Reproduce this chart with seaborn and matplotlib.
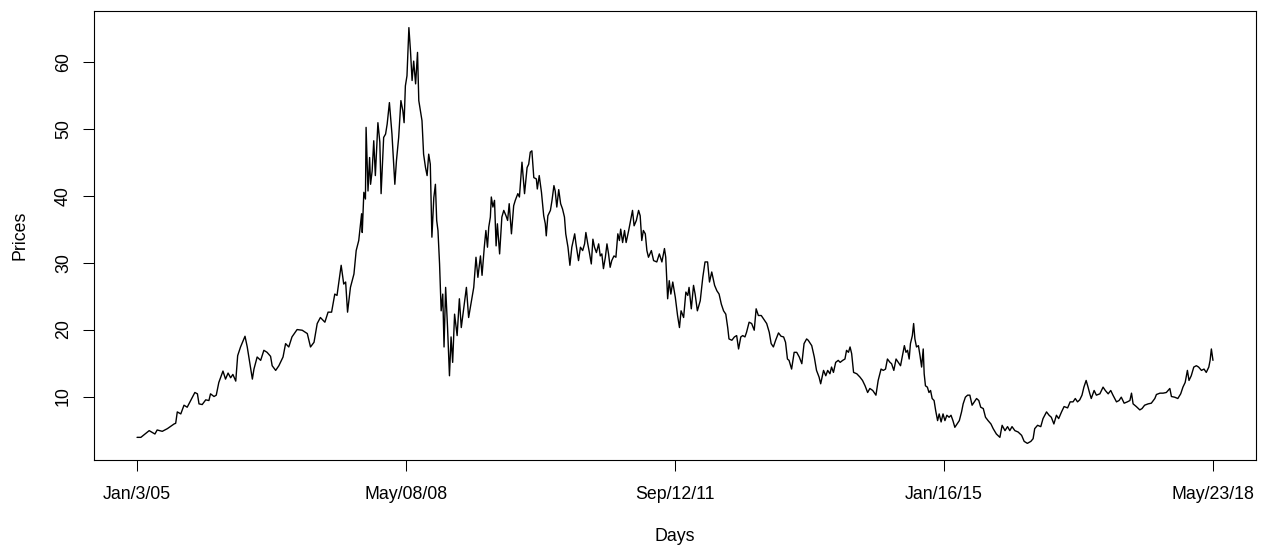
import matplotlib
matplotlib.use("Agg")
import matplotlib.pyplot as plt
import seaborn as sns
import pandas as pd

# Trading-day index (0 = first session) and closing price
days = [
    0, 12, 38, 56, 63, 79, 95, 116, 121, 126,
    137, 147, 157, 168, 181, 189, 194, 204, 215, 225,
    230, 241, 248, 256, 269, 277, 285, 293, 300, 309,
    315, 324, 338, 345, 350, 361, 366, 376, 387, 397,
    407, 418, 423, 434, 444, 457, 465, 475, 485, 501,
    517, 533, 543, 554, 564, 574, 588, 598, 609, 619,
    626, 639, 647, 653, 659, 668, 679, 686, 694, 703,
    705, 710, 715, 717, 720, 723, 728, 731, 736, 741,
    746, 754, 760, 764, 772, 778, 783, 790, 798, 807,
    812, 819, 826, 832, 836, 840, 845, 851, 856, 861,
    866, 872, 878, 882, 887, 892, 897, 903, 908, 913,
    918, 923, 929, 934, 938, 942, 947, 952, 957, 961,
    966, 972, 978, 983, 988, 994, 1002, 1009, 1015, 1023,
    1031, 1038, 1045, 1054, 1061, 1067, 1075, 1080, 1087, 1092,
    1097,
    1101, 1106, 1109, 1114, 1119, 1124, 1128, 1135, 1142, 1148,
    1155, 1160, 1165, 1172, 1179, 1184, 1192, 1197, 1205, 1213,
    1221, 1226, 1231, 1236, 1242, 1250, 1253, 1259, 1266, 1273,
    1278, 1281, 1286, 1294, 1299, 1305, 1309, 1314, 1320, 1326,
    1332, 1338, 1342, 1349, 1355, 1361, 1370, 1374, 1382, 1388,
    1395, 1401, 1405, 1411, 1416, 1422, 1427, 1432, 1438, 1445,
    1450, 1455, 1460, 1466, 1471, 1476, 1481, 1486, 1493, 1499,
    1505, 1510, 1514, 1520, 1526, 1531, 1539, 1546, 1551, 1556,
    1563,
    1570, 1575, 1580, 1585, 1591, 1596, 1601, 1610, 1617, 1627,
    1635, 1643, 1651, 1655, 1661, 1666, 1671, 1677, 1685, 1692,
    1698, 1703, 1711, 1718, 1724, 1728, 1735, 1742, 1747, 1754,
    1763, 1771, 1778, 1786, 1792, 1799, 1808, 1815, 1822, 1829,
    1836, 1843, 1849, 1853, 1862, 1870, 1877, 1883, 1890, 1896,
    1903, 1908, 1916, 1924, 1932, 1938, 1945, 1954, 1961, 1971,
    1979, 1985, 1992, 1999, 2008, 2016, 2024, 2030, 2036, 2041,
    2049, 2057, 2065, 2073, 2081, 2088, 2096,
    2101, 2112, 2120, 2127, 2135, 2140, 2149, 2156, 2162, 2169,
    2174, 2180, 2187, 2195, 2201, 2209, 2216, 2221, 2227, 2232,
    2237, 2243, 2253, 2263, 2271, 2279, 2287, 2294, 2303, 2313,
    2320, 2329, 2336, 2343, 2349, 2357, 2362, 2369, 2376, 2383,
    2390, 2396, 2402, 2407, 2412, 2417, 2421, 2427, 2431, 2435,
    2440, 2446, 2451, 2456, 2461, 2464, 2468, 2474, 2479, 2484,
    2489, 2495, 2500, 2506, 2511, 2517, 2523, 2529, 2535, 2542,
    2548, 2554, 2560, 2567, 2574, 2581, 2586, 2593, 2600, 2607,
    2614, 2621, 2628, 2635, 2641, 2649, 2656,
    2664, 2673, 2680, 2690, 2701, 2708, 2717, 2725, 2732, 2739,
    2748, 2758, 2769, 2777, 2787, 2798, 2805, 2810, 2819, 2829,
    2836, 2847, 2855, 2862, 2870, 2878, 2885, 2894, 2902, 2913,
    2921, 2930, 2937, 2944, 2951, 2958, 2964, 2971, 2977, 2982,
    2987, 2996, 3003, 3014, 3024, 3031, 3040, 3048, 3055, 3066,
    3074, 3081, 3090, 3100, 3108, 3113, 3118, 3128, 3139, 3146,
    3154, 3165, 3175, 3186, 3191, 3202, 3212, 3222, 3233, 3238,
    3248, 3258, 3267, 3274, 3281, 3288, 3293, 3300, 3308, 3316,
    3323, 3332, 3340, 3347, 3355, 3359, 3363, 3368,
]

prices = [
    3.9, 3.9, 4.9, 4.4, 5.0, 4.8, 5.2, 5.9, 6.0, 7.7,
    7.4, 8.7, 8.4, 9.4, 10.6, 10.4, 8.9, 8.8, 9.5, 9.4,
    10.4, 10.0, 10.2, 12.1, 13.8, 12.6, 13.5, 12.8, 13.3, 12.3,
    16.1, 17.4, 19.0, 17.4, 15.9, 12.6, 14.1, 15.9, 15.4, 16.9,
    16.6, 16.0, 14.6, 13.9, 14.6, 15.9, 17.9, 17.4, 18.9, 20.0,
    19.9, 19.4, 17.4, 18.1, 20.9, 21.8, 21.1, 22.6, 22.6, 25.3,
    25.1, 29.6, 26.8, 27.1, 22.6, 26.3, 28.3, 31.8, 33.3, 37.3,
    34.5, 40.5, 39.5, 50.2, 45.2, 40.7, 45.7, 41.7, 43.7, 48.2,
    43.0, 50.9, 48.0, 40.3, 48.7, 49.2, 50.7, 53.9, 49.2, 41.7,
    45.2, 48.7, 54.2, 52.7, 50.9, 56.4, 57.9, 65.1, 61.6, 57.2,
    60.1, 56.7, 61.4, 54.2, 52.7, 51.2, 46.2, 44.2, 43.0, 46.2,
    44.7, 33.8, 39.7, 41.7, 36.3, 34.8, 29.8, 22.8, 25.3, 17.4,
    26.3, 20.3, 13.1, 18.9, 15.1, 22.3, 19.1, 24.6, 20.3, 23.3,
    26.3, 21.8, 23.8, 26.3, 30.8, 27.8, 31.0, 28.1, 32.3, 34.8,
    32.3,
    35.3, 36.8, 39.8, 38.3, 39.3, 32.5, 35.8, 31.3, 36.8, 37.8,
    37.0, 36.3, 38.8, 34.3, 38.5, 39.3, 40.3, 39.8, 45.0, 40.3,
    44.2, 44.7, 46.5, 46.7, 42.7, 42.5, 41.0, 43.0, 40.5, 37.0,
    35.8, 34.0, 37.0, 37.8, 39.3, 41.5, 40.7, 38.3, 40.9, 38.8,
    38.0, 36.8, 34.3, 32.3, 29.6, 32.3, 34.3, 32.8, 30.3, 32.3,
    31.8, 32.8, 34.5, 32.8, 31.5, 29.8, 33.5, 32.3, 31.5, 32.8,
    31.0, 31.3, 29.1, 30.8, 32.8, 31.3, 29.3, 30.3, 31.0, 30.8,
    34.3, 33.3, 35.0, 33.0, 34.8, 33.0, 34.8, 36.5, 37.8, 35.5,
    36.3,
    37.8, 37.0, 33.3, 34.8, 34.3, 31.8, 30.8, 31.8, 30.3, 30.1,
    31.3, 30.1, 32.1, 30.8, 24.6, 27.3, 25.3, 27.1, 24.8, 22.1,
    20.3, 22.8, 21.8, 25.6, 25.1, 26.3, 23.1, 26.6, 25.3, 22.8,
    24.3, 27.8, 30.1, 30.1, 27.1, 28.6, 26.6, 25.8, 25.3, 23.8,
    22.8, 22.3, 20.3, 18.6, 18.4, 18.9, 19.1, 17.1, 18.9, 19.1,
    18.9, 19.6, 21.1, 20.9, 19.9, 23.1, 22.1, 22.1, 21.6, 20.9,
    19.6, 17.9, 17.4, 18.4, 19.5, 19.0, 18.9, 18.1, 15.6, 15.4,
    14.1, 16.6, 16.6, 15.9, 14.9, 17.9, 18.6,
    18.4, 17.6, 15.9, 13.9, 12.9, 11.9, 13.9, 13.1, 13.9, 13.4,
    14.4, 13.6, 15.1, 15.4, 15.1, 15.4, 15.6, 16.9, 16.6, 17.4,
    16.4, 13.6, 13.4, 12.9, 12.4, 11.6, 10.6, 11.2, 10.9, 10.2,
    12.4, 14.1, 13.9, 14.1, 15.6, 15.1, 14.9, 13.9, 15.6, 15.1,
    14.6, 16.1, 17.6, 16.6, 16.9, 15.6, 17.9, 19.1, 20.9, 18.6,
    17.4, 17.6, 16.1, 14.4, 17.1, 13.4, 11.6, 11.4, 10.6, 10.9,
    9.7, 9.4, 7.9, 6.4, 7.4, 6.2, 7.4, 6.4, 7.2, 6.9,
    7.2, 6.4, 5.4, 5.9, 6.4, 7.7, 8.9, 9.9, 10.2, 10.2,
    8.7, 9.2, 9.7, 9.4, 8.4, 8.2, 6.9,
    6.4, 5.9, 5.2, 4.4, 3.9, 5.7, 4.9, 5.5, 4.9, 5.5,
    4.9, 4.7, 4.2, 3.3, 3.0, 3.3, 3.7, 5.2, 5.7, 5.5,
    6.7, 7.7, 7.2, 6.9, 5.9, 7.2, 6.7, 7.7, 8.5, 8.3,
    9.2, 9.2, 9.7, 9.2, 9.5, 10.2, 11.4, 12.4, 11.4, 10.5,
    9.7, 10.9, 10.2, 10.4, 11.4, 10.9, 10.4, 10.9, 10.2, 9.2,
    9.4, 9.9, 9.0, 9.2, 9.4, 10.5, 8.9, 8.5, 8.0, 8.2,
    8.7, 8.9, 9.0, 9.7, 10.3, 10.5, 10.5, 10.6, 11.2, 10.0,
    9.9, 9.7, 10.4, 11.4, 12.1, 13.9, 12.4, 13.1, 14.4, 14.6,
    14.4, 13.9, 14.1, 13.6, 14.4, 15.4, 17.1, 15.4,
]

tick_days = [0, 842, 1684, 2526, 3368]
tick_labels = ["Jan/3/05", "May/08/08", "Sep/12/11", "Jan/16/15", "May/23/18"]
price_ticks = [10, 20, 30, 40, 50, 60]

sns.set_style("ticks")
plt.rcParams["font.family"] = ["Liberation Sans", "DejaVu Sans"]
FS = 12.8

W, H = 1266, 546
fig = plt.figure(figsize=(W / 100, H / 100), dpi=100)
ax = fig.add_axes([94 / W, 1 - 460 / H, (1256 - 94) / W, (460 - 11) / H])

df = pd.DataFrame({"Days": days, "Prices": prices})
sns.lineplot(data=df, x="Days", y="Prices", ax=ax, color="black",
             linewidth=1.0, estimator=None, sort=False)


def padded(lo, hi, frac=0.04):
    r = hi - lo
    return lo - frac * r, hi + frac * r


ax.set_xlim(*padded(min(days), max(days)))
ax.set_ylim(*padded(min(prices), max(prices)))

ax.set_xticks(tick_days)
ax.set_xticklabels(tick_labels)
ax.set_yticks(price_ticks)
ax.set_yticklabels([str(v) for v in price_ticks])

ax.tick_params(axis="both", direction="out", length=7.9, width=0.75,
               colors="black", labelsize=FS, labelcolor="black")
ax.tick_params(axis="x", pad=10.5)
ax.tick_params(axis="y", pad=8.0)
for lab in ax.get_yticklabels():
    lab.set_rotation(90)
    lab.set_verticalalignment("center")

for side in ["left", "right", "top", "bottom"]:
    ax.spines[side].set_visible(True)
    ax.spines[side].set_color("black")
    ax.spines[side].set_linewidth(0.8)

ax.set_xlabel("Days", fontsize=FS, color="black", labelpad=18)
ax.set_ylabel("Prices", fontsize=FS, color="black", labelpad=18.7)

fig.savefig("out.png", dpi=100)
